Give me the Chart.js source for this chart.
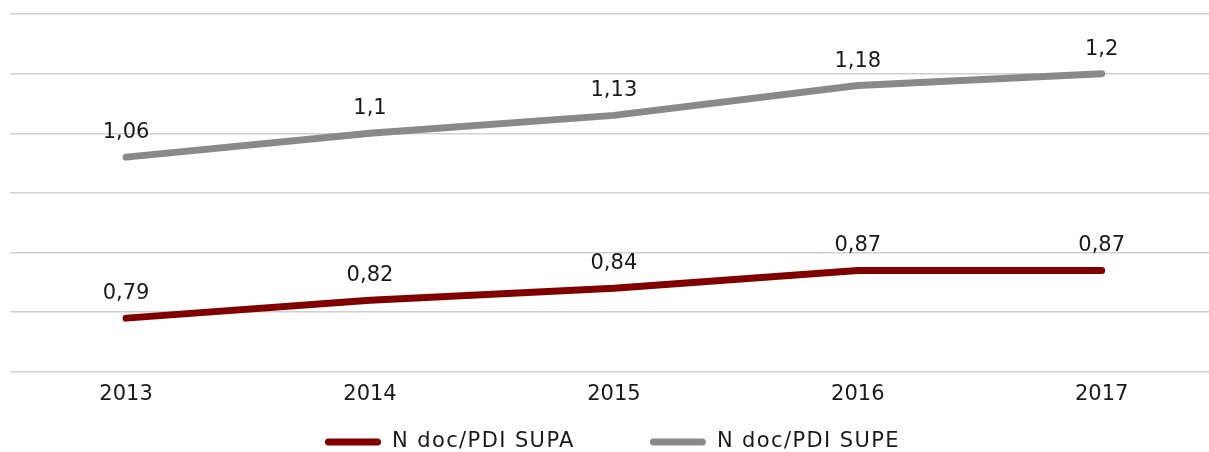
<!DOCTYPE html>
<html>
<head>
<meta charset="utf-8">
<script src="https://cdn.jsdelivr.net/npm/chart.js@4"></script>
<style>
html,body{margin:0;padding:0;background:#fff;}
#wrap{width:1209px;height:452px;position:relative;}
</style>
</head>
<body>
<div id="wrap"><canvas id="c"></canvas></div>
<script>
const years = [2013, 2014, 2015, 2016, 2017];
const supa = [0.79, 0.82, 0.84, 0.87, 0.87];
const supe = [1.06, 1.10, 1.13, 1.18, 1.20];
const seriesNames = ['N doc/PDI SUPA', 'N doc/PDI SUPE'];
const seriesColors = ['#800000', '#898989'];
const yTicks = [0.7, 0.8, 0.9, 1.0, 1.1, 1.2, 1.3];

const FONT = '"DejaVu Sans", sans-serif';
const FSIZE = 21;
const TEXT = '#1a1a1a';
const fmt = v => String(v).replace('.', ',');

const labelPlugin = {
  id: 'pointLabels',
  afterDatasetsDraw(chart) {
    const ctx = chart.ctx;
    ctx.save();
    ctx.font = FSIZE + 'px ' + FONT;
    ctx.fillStyle = TEXT;
    ctx.textAlign = 'center';
    ctx.textBaseline = 'alphabetic';
    chart.data.datasets.forEach((ds, i) => {
      const meta = chart.getDatasetMeta(i);
      meta.data.forEach((pt, j) => {
        ctx.fillText(fmt(ds.data[j].y), pt.x, pt.y - 19);
      });
    });
    ctx.restore();
  }
};

const legendPlugin = {
  id: 'bottomLegend',
  afterDraw(chart) {
    const ctx = chart.ctx;
    const boxW = 56, boxH = 7, gap = 11, itemGap = 75;
    ctx.save();
    ctx.font = FSIZE + 'px ' + FONT;
    ctx.letterSpacing = '1.4px';
    const items = chart.data.datasets.map(ds => ({
      text: ds.label, color: ds.borderColor, w: ctx.measureText(ds.label).width
    }));
    let total = 0;
    items.forEach((it, i) => { total += boxW + gap + it.w + (i ? itemGap : 0); });
    const ca = chart.chartArea;
    let x = (ca.left + ca.right) / 2 - total / 2 + 3;
    const yc = 442;
    items.forEach(it => {
      ctx.fillStyle = it.color;
      ctx.beginPath();
      ctx.roundRect(x, yc - boxH / 2, boxW, boxH, boxH / 2);
      ctx.fill();
      ctx.fillStyle = TEXT;
      ctx.textAlign = 'left';
      ctx.textBaseline = 'middle';
      ctx.fillText(it.text, x + boxW + gap, yc);
      x += boxW + gap + it.w + itemGap;
    });
    ctx.restore();
  }
};

new Chart(document.getElementById('c'), {
  type: 'line',
  data: {
    datasets: seriesNames.map((name, i) => ({
      label: name,
      data: years.map((x, j) => ({x, y: [supa, supe][i][j]})),
      borderColor: seriesColors[i],
      backgroundColor: seriesColors[i],
      borderWidth: 7,
      borderCapStyle: 'round',
      borderJoinStyle: 'round',
      pointRadius: 0,
      tension: 0
    }))
  },
  options: {
    responsive: true,
    maintainAspectRatio: false,
    animation: false,
    layout: {padding: {left: 10, right: 0, top: 14, bottom: 43}},
    plugins: {
      tooltip: {enabled: false},
      legend: {display: false}
    },
    scales: {
      x: {
        type: 'linear',
        min: 2012.524,
        max: 2017.44,
        afterBuildTicks: s => { s.ticks = years.map(v => ({value: v})); },
        grid: {display: false},
        border: {display: false},
        ticks: {
          font: {family: FONT, size: FSIZE},
          color: TEXT,
          padding: 2,
          maxRotation: 0,
          callback: v => String(v)
        }
      },
      y: {
        min: 0.7,
        max: 1.3,
        afterBuildTicks: s => { s.ticks = yTicks.map(v => ({value: v})); },
        ticks: {display: false},
        border: {display: false},
        grid: {color: '#d0d0d0', lineWidth: 1.5, drawTicks: false}
      }
    }
  },
  plugins: [labelPlugin, legendPlugin]
});
</script>
</body>
</html>
